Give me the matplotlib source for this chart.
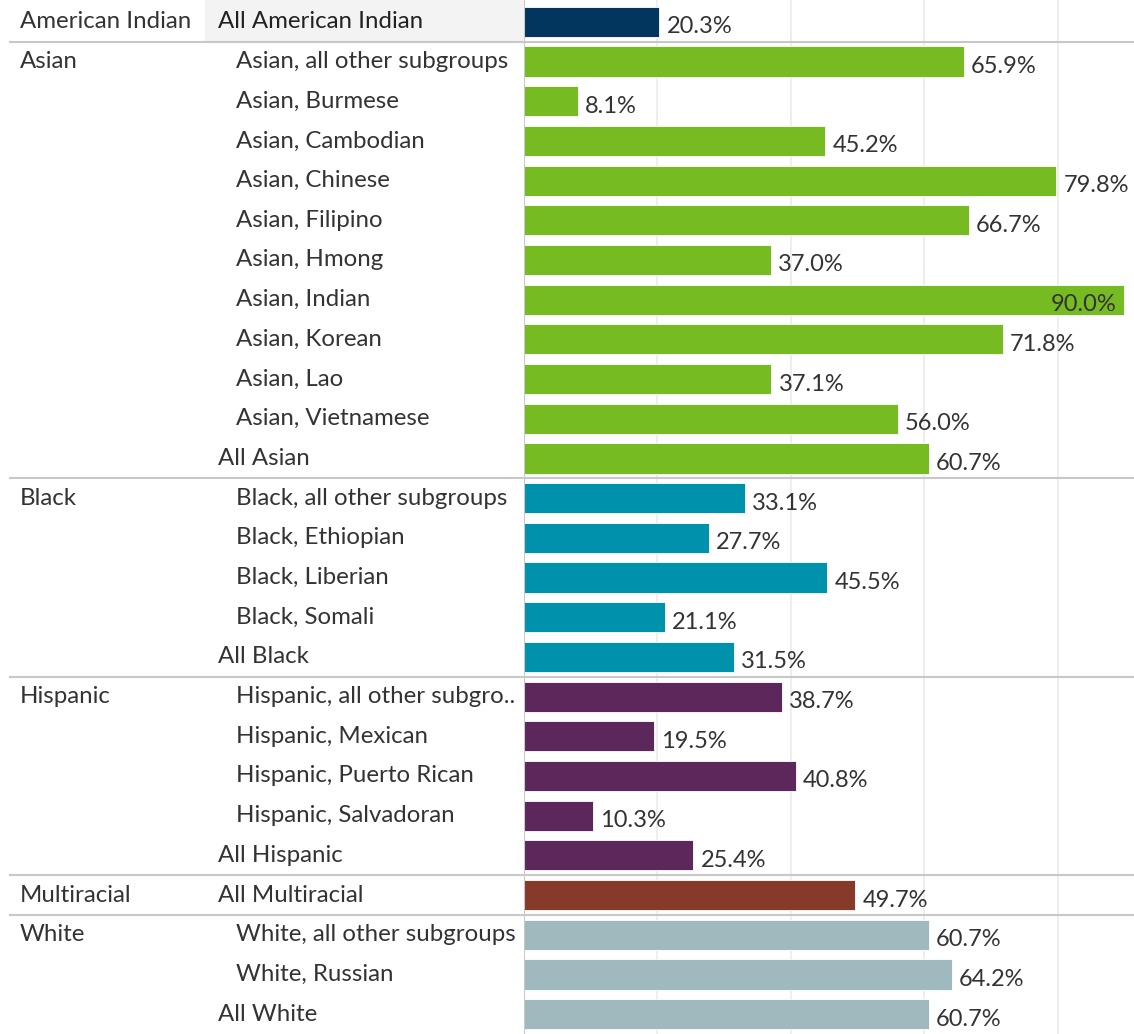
import matplotlib.pyplot as plt
import matplotlib.transforms as mtransforms

# data, top to bottom
groups = ["American Indian", "Asian", "Black", "Hispanic", "Multiracial", "White"]
group_colors = ["#03365f", "#76bb22", "#0091ad", "#5c285b", "#883a2a", "#a0b9be"]

subgroups = [
    ["All American Indian"],
    ["Asian, all other subgroups", "Asian, Burmese", "Asian, Cambodian", "Asian, Chinese",
     "Asian, Filipino", "Asian, Hmong", "Asian, Indian", "Asian, Korean", "Asian, Lao",
     "Asian, Vietnamese", "All Asian"],
    ["Black, all other subgroups", "Black, Ethiopian", "Black, Liberian", "Black, Somali",
     "All Black"],
    ["Hispanic, all other subgro..", "Hispanic, Mexican", "Hispanic, Puerto Rican",
     "Hispanic, Salvadoran", "All Hispanic"],
    ["All Multiracial"],
    ["White, all other subgroups", "White, Russian", "All White"],
]

values = [
    [20.3],
    [65.9, 8.1, 45.2, 79.8, 66.7, 37.0, 90.0, 71.8, 37.1, 56.0, 60.7],
    [33.1, 27.7, 45.5, 21.1, 31.5],
    [38.7, 19.5, 40.8, 10.3, 25.4],
    [49.7],
    [60.7, 64.2, 60.7],
]

plt.rcParams['font.family'] = ['Lato', 'DejaVu Sans']
text_color = "#333333"
sep_color = "#c8c8c8"
label_size = 17.3
value_size = 17

W, H = 1134, 1034
fig = plt.figure(figsize=(W / 100, H / 100), dpi=100)
axis_x = 524
ax = fig.add_axes([axis_x / W, 0, 1 - axis_x / W, 1])
lab = fig.add_axes([0, 0, axis_x / W, 1])

n_rows = sum(len(s) for s in subgroups)
top_pad = 2 / 39.75
for a in (ax, lab):
    a.set_ylim(n_rows - 0.5, -0.5 - top_pad)
    for s in a.spines.values():
        s.set_visible(False)
    a.set_xticks([])
    a.set_yticks([])

lab.set_xlim(0, axis_x)
ax.set_xlim(0, (W - axis_x) / 6.67)

for g in [20, 40, 60, 80]:
    ax.axvline(g, color="#ebebeb", lw=1.2, zorder=0)
ax.axvline(0, color="#c8c8c8", lw=1.5, zorder=3)

# hover highlight behind first label
lab.add_patch(plt.Rectangle((205, -0.5 - top_pad), axis_x - 205, 1 + top_pad,
                            color="#f3f3f3", zorder=0))

off = mtransforms.offset_copy(ax.transData, fig=fig, x=7, y=-5, units='dots')
off_in = mtransforms.offset_copy(ax.transData, fig=fig, x=-8, y=-5, units='dots')

row = 0
for gi, grp in enumerate(groups):
    lab.text(20, row, grp, ha="left", va="center", fontsize=label_size, color=text_color)
    for name, v in zip(subgroups[gi], values[gi]):
        x_lab = 218 if name.startswith("All ") else 236
        lab.text(x_lab, row, name, ha="left", va="center", fontsize=label_size,
                 color="#222222" if row == 0 else text_color)
        ax.barh(row, v, height=0.76, color=group_colors[gi], edgecolor="white",
                linewidth=0.6, zorder=2)
        txt = f"{v:.1f}%"
        if v > 85:
            ax.text(v, row, txt, ha="right", va="center", fontsize=value_size,
                    color=text_color, transform=off_in, zorder=4)
        else:
            ax.text(v, row, txt, ha="left", va="center", fontsize=value_size,
                    color=text_color, transform=off, zorder=4)
        row += 1
    if gi < len(groups) - 1:
        lab.plot([10, axis_x], [row - 0.5, row - 0.5], color=sep_color, lw=1.5,
                 clip_on=False)
        ax.axhline(row - 0.5, color=sep_color, lw=1.5, zorder=1)

fig.savefig("out.png", dpi=100)
